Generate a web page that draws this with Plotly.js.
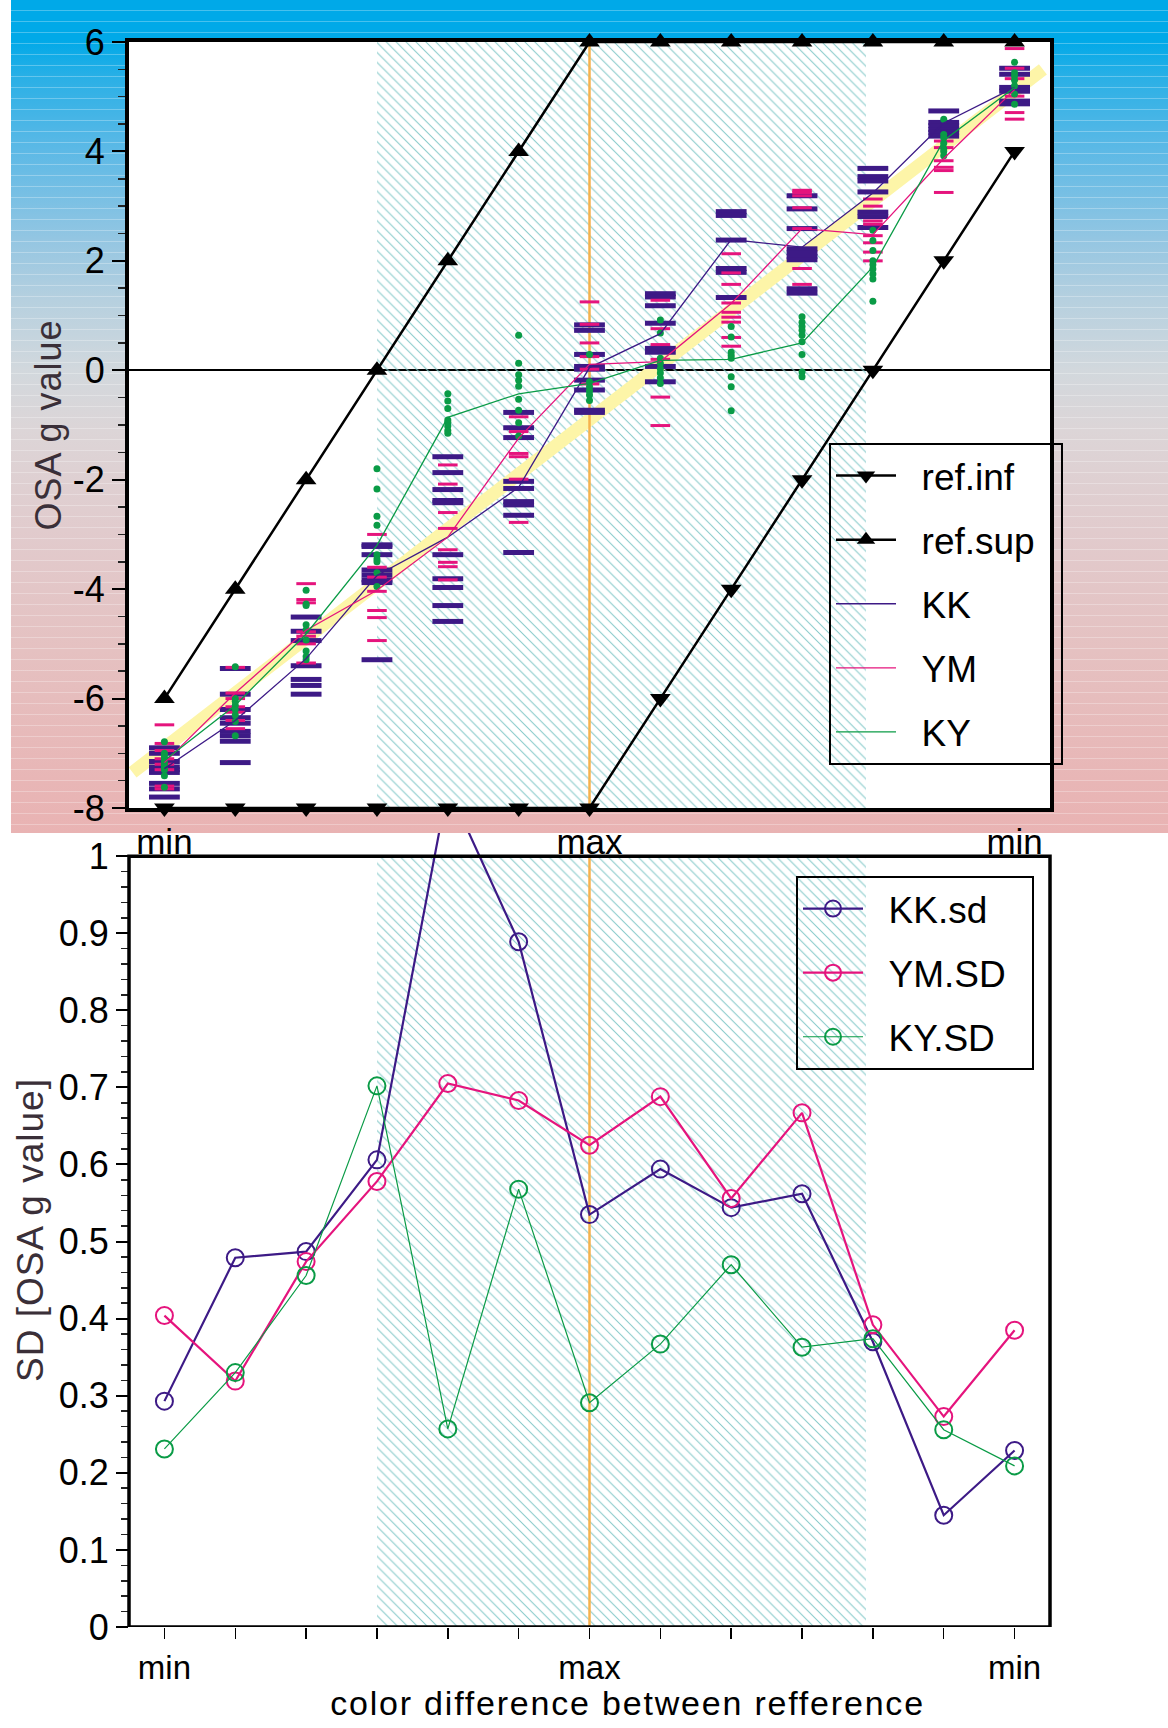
<!DOCTYPE html>
<html>
<head>
<meta charset="utf-8">
<script src="https://cdn.plot.ly/plotly-3.0.1.min.js"></script>
<style>
  html, body { margin: 0; padding: 0; background: #ffffff; }
  #wrap { position: relative; width: 1168px; height: 1728px; overflow: hidden; }
  #band {
    position: absolute; left: 11px; top: 0; width: 1157px; height: 833px;
    background:
      repeating-linear-gradient(to bottom, rgba(255,255,255,0) 0px, rgba(255,255,255,0) 10px, rgba(255,255,255,0.28) 10px, rgba(255,255,255,0.28) 11px),
      linear-gradient(to bottom, #00a9e8 0px, #00a9e8 40px, #2cb0e6 80px, #5cb9e6 150px, #94c6e2 240px, #b6d0df 300px, #d2d8dd 370px, #dcd5d7 430px, #e1cbcd 530px, #e5c1c1 650px, #e8b6b6 780px, #e9b3b3 833px);
  }
  #chart { position: absolute; left: 0; top: 0; width: 1168px; height: 1728px; }
  #chart .g-x2title { transform: translateX(38px); }
  #chart .g-x2title text { letter-spacing: 1.8px; }
  #chart .g-ytitle text, #chart .g-y2title text { letter-spacing: 1px; }
</style>
</head>
<body>
<div id="wrap">
  <div id="band"></div>
  <div id="chart"></div>
</div>
<script>
// ---------- data ----------
const xIdx = [1, 2, 3, 4, 5, 6, 7, 8, 9, 10, 11, 12, 13];
const tickText = ['min', '', '', '', '', '', 'max', '', '', '', '', '', 'min'];
const topTickVals = [1, 7, 13];
const topTickText = ['min', 'max', 'min'];
const yTickVals = [-8, -6, -4, -2, 0, 2, 4, 6];
const yTickText = ['-8', '-6', '-4', '-2', '0', '2', '4', '6'];

const refInf = [-8, -8, -8, -8, -8, -8, -8, -6, -4, -2, 0, 2, 4];
const refSup = [-6, -4, -2, 0, 2, 4, 6, 6, 6, 6, 6, 6, 6];

const kkLine = [-7.28, -6.40, -5.27, -3.75, -3.05, -2.14, 0.05, 0.67, 2.39, 2.25, 3.24, 4.52, 5.17];
const ymLine = [-7.17, -5.90, -4.75, -4.02, -3.05, -1.24, 0.11, 0.16, 1.22, 2.59, 2.48, 3.87, 5.13];
const kyLine = [-7.13, -6.12, -4.82, -3.20, -0.86, -0.43, -0.24, 0.18, 0.20, 0.50, 1.89, 4.20, 5.17];

const kkPts = [
  [-6.90, -7.00, -7.15, -7.25, -7.30, -7.35, -7.55, -7.65, -7.80],
  [-5.45, -5.92, -6.20, -6.35, -6.45, -6.60, -6.68, -6.78, -7.17],
  [-4.51, -4.77, -4.94, -5.40, -5.65, -5.76, -5.92],
  [-3.19, -3.22, -3.37, -3.65, -3.74, -3.83, -3.88, -5.29],
  [-1.58, -1.87, -2.18, -2.38, -2.42, -3.37, -3.81, -3.97, -4.30, -4.59],
  [-0.77, -1.05, -1.23, -2.03, -2.16, -2.40, -2.46, -2.65, -3.33],
  [0.83, 0.73, 0.29, 0.07, 0.02, -0.18, -0.36, -0.73, -0.77],
  [1.40, 1.34, 1.18, 0.86, 0.40, 0.33, 0.07, -0.21],
  [2.90, 2.83, 2.38, 1.86, 1.79, 1.33],
  [3.19, 2.95, 2.59, 2.22, 2.15, 2.08, 2.02, 1.49, 1.41],
  [3.69, 3.54, 3.46, 3.26, 2.89, 2.81, 2.61],
  [4.74, 4.53, 4.47, 4.40, 4.35, 4.28],
  [5.52, 5.41, 5.17, 5.10, 4.92, 4.87]
];
const ymPts = [
  [-6.48, -6.82, -6.95, -7.10, -7.20, -7.30, -7.60, -7.65],
  [-5.43, -5.90, -6.00, -6.15, -6.25, -6.40, -6.55],
  [-3.90, -4.19, -4.25, -4.78, -4.86, -5.00, -5.35],
  [-3.00, -3.60, -3.78, -4.04, -4.39, -4.52, -4.94],
  [-1.73, -2.08, -2.60, -2.89, -3.28, -3.51, -3.59, -3.83],
  [-0.85, -1.12, -1.52, -1.58, -1.99, -2.78],
  [1.25, 0.84, 0.50, 0.25, 0.02, -0.25],
  [1.28, 0.76, 0.47, 0.20, -0.49, -1.01],
  [2.13, 1.78, 1.57, 1.23, 1.06, 0.97, 0.88, 0.60, 0.44],
  [3.29, 3.25, 3.19, 2.97, 2.59, 1.86, 1.57],
  [3.13, 3.00, 2.73, 2.67, 2.46, 2.33, 2.16, 2.00],
  [4.19, 4.07, 3.83, 3.71, 3.65, 3.25],
  [5.88, 5.52, 5.33, 5.01, 4.71, 4.59]
];
const kyPts = [
  [-6.79, -7.00, -7.05, -7.10, -7.15, -7.20, -7.25, -7.30, -7.41, -7.62],
  [-5.42, -6.00, -6.05, -6.12, -6.20, -6.30, -6.42, -6.68],
  [-4.02, -4.27, -4.30, -4.65, -4.74, -4.93, -5.13, -5.23, -5.29],
  [-1.80, -2.17, -2.67, -2.83, -3.37, -3.45, -3.50, -3.70, -3.95],
  [-0.43, -0.56, -0.70, -0.91, -0.95, -1.02, -1.10, -1.15],
  [0.64, 0.13, -0.08, -0.18, -0.29, -0.53, -0.73, -0.96, -1.20],
  [0.29, -0.21, -0.30, -0.38, -0.45, -0.55],
  [0.92, 0.68, 0.22, 0.13, 0.03, -0.05, -0.14, -0.24],
  [0.80, 0.61, 0.33, 0.27, 0.22, -0.12, -0.30, -0.74],
  [0.98, 0.88, 0.80, 0.73, 0.64, 0.52, 0.29, -0.03, -0.12],
  [2.56, 2.37, 2.19, 2.00, 1.93, 1.85, 1.76, 1.67, 1.26],
  [4.59, 4.31, 4.25, 4.15, 4.05, 4.00, 3.92],
  [5.63, 5.44, 5.38, 5.30, 5.20, 5.05, 4.86]
];

// diagonal yellow reference band
const diagX = [0.55, 13.4];
const diagY = [-7.35, 5.5];

// shaded (hatched) region and "max" position
const hatchX = [4.0, 10.9];
const maxPos = 7;
const topRange = [-8, 6];
const sdRange = [0, 1];

// standard deviations
const kkSd = [0.293, 0.479, 0.487, 0.606, 1.09, 0.889, 0.535, 0.594, 0.544, 0.562, 0.370, 0.145, 0.229];
const ymSd = [0.404, 0.319, 0.474, 0.578, 0.705, 0.683, 0.625, 0.688, 0.556, 0.667, 0.392, 0.273, 0.385];
const kySd = [0.231, 0.330, 0.456, 0.702, 0.257, 0.568, 0.291, 0.367, 0.470, 0.363, 0.374, 0.256, 0.209];

const topNames = ['ref.inf', 'ref.sup', 'KK', 'YM', 'KY'];
const sdNames = ['KK.sd', 'YM.SD', 'KY.SD'];
const xTitle = 'color difference between refference';

// ---------- styles ----------
const C_KK = '#3d1a86';
const C_YM = '#e5147d';
const C_KY = '#0a9b46';
const C_HATCH = '#86caca';
const C_ORANGE = '#f6b24e';
const FONT = '"Liberation Sans", Arial, Helvetica, sans-serif';
const PAD = '\u00A0\u00A0';
const label = s => PAD + s + PAD;

function flatten(pts) {
  const xs = [], ys = [];
  pts.forEach((col, i) => col.forEach(v => { xs.push(xIdx[i]); ys.push(v); }));
  return { x: xs, y: ys };
}
const kkF = flatten(kkPts), ymF = flatten(ymPts), kyF = flatten(kyPts);

const hatchMid = (hatchX[0] + hatchX[1]) / 2;
const hatchW = hatchX[1] - hatchX[0];

const traces = [
  // ---- top panel ----
  { type: 'bar', x: [hatchMid], y: [topRange[1] - topRange[0]], base: [topRange[0]], width: [hatchW],
    xaxis: 'x', yaxis: 'y', showlegend: false, hoverinfo: 'skip',
    marker: { color: C_HATCH, line: { width: 0 }, pattern: { shape: '\\', size: 7, solidity: 0.15, fgcolor: C_HATCH, fillmode: 'replace' } } },
  { type: 'scatter', mode: 'lines', x: diagX, y: diagY, xaxis: 'x', yaxis: 'y', showlegend: false,
    line: { color: '#fdf5a8', width: 13 }, hoverinfo: 'skip' },
  { type: 'scatter', mode: 'lines', x: [maxPos, maxPos], y: topRange, xaxis: 'x', yaxis: 'y', showlegend: false,
    line: { color: C_ORANGE, width: 2.5 }, hoverinfo: 'skip' },
  { type: 'scatter', mode: 'markers', x: kkF.x, y: kkF.y, xaxis: 'x', yaxis: 'y', showlegend: false,
    marker: { symbol: 'line-ew', size: 22, line: { color: C_KK, width: 5 } } },
  { type: 'scatter', mode: 'markers', x: ymF.x, y: ymF.y, xaxis: 'x', yaxis: 'y', showlegend: false,
    marker: { symbol: 'line-ew', size: 14, line: { color: C_YM, width: 3 } } },
  { type: 'scatter', mode: 'markers', x: kyF.x, y: kyF.y, xaxis: 'x', yaxis: 'y', showlegend: false,
    marker: { symbol: 'circle', size: 7, color: C_KY } },
  { type: 'scatter', mode: 'lines+markers', name: label(topNames[0]), legendgroup: 'g1', x: xIdx, y: refInf, xaxis: 'x', yaxis: 'y',
    line: { color: '#000', width: 2.5 }, marker: { symbol: 'triangle-down', size: 18, color: '#000' }, cliponaxis: false },
  { type: 'scatter', mode: 'lines+markers', name: label(topNames[1]), legendgroup: 'g2', x: xIdx, y: refSup, xaxis: 'x', yaxis: 'y',
    line: { color: '#000', width: 2.5 }, marker: { symbol: 'triangle-up', size: 18, color: '#000' }, cliponaxis: false },
  { type: 'scatter', mode: 'lines', name: label(topNames[2]), legendgroup: 'g3', x: xIdx, y: kkLine, xaxis: 'x', yaxis: 'y',
    line: { color: C_KK, width: 1.3 } },
  { type: 'scatter', mode: 'lines', name: label(topNames[3]), legendgroup: 'g4', x: xIdx, y: ymLine, xaxis: 'x', yaxis: 'y',
    line: { color: C_YM, width: 1.3 } },
  { type: 'scatter', mode: 'lines', name: label(topNames[4]), legendgroup: 'g5', x: xIdx, y: kyLine, xaxis: 'x', yaxis: 'y',
    line: { color: C_KY, width: 1.3 } },

  // ---- bottom panel ----
  { type: 'bar', x: [hatchMid], y: [sdRange[1] - sdRange[0]], base: [sdRange[0]], width: [hatchW],
    xaxis: 'x2', yaxis: 'y2', showlegend: false, hoverinfo: 'skip',
    marker: { color: C_HATCH, line: { width: 0 }, pattern: { shape: '\\', size: 7, solidity: 0.15, fgcolor: C_HATCH, fillmode: 'replace' } } },
  { type: 'scatter', mode: 'lines', x: [maxPos, maxPos], y: sdRange, xaxis: 'x2', yaxis: 'y2', showlegend: false,
    line: { color: C_ORANGE, width: 2.5 }, hoverinfo: 'skip' },
  { type: 'scatter', mode: 'lines+markers', name: label(sdNames[0]), legend: 'legend2', legendgroup: 'h1', x: xIdx, y: kkSd, xaxis: 'x2', yaxis: 'y2',
    line: { color: C_KK, width: 2.2 }, marker: { symbol: 'circle-open', size: 17, color: C_KK, line: { width: 2 } } },
  { type: 'scatter', mode: 'lines+markers', name: label(sdNames[1]), legend: 'legend2', legendgroup: 'h2', x: xIdx, y: ymSd, xaxis: 'x2', yaxis: 'y2',
    line: { color: C_YM, width: 2.2 }, marker: { symbol: 'circle-open', size: 17, color: C_YM, line: { width: 2 } } },
  { type: 'scatter', mode: 'lines+markers', name: label(sdNames[2]), legend: 'legend2', legendgroup: 'h3', x: xIdx, y: kySd, xaxis: 'x2', yaxis: 'y2',
    line: { color: C_KY, width: 1.2 }, marker: { symbol: 'circle-open', size: 17, color: C_KY, line: { width: 2 } } }
];

// minor tick positions for SD axis (inside 0..1 only)
const sdMinor = [];
for (let k = 1; k < 50; k++) { if (k % 5 !== 0) sdMinor.push(k / 50); }

const W = 1168, H = 1728;
const mL = 129, mR = 118, mT = 42, mB = 101;
const plotH = H - mT - mB;
const topDomain = [1 - (808 - mT) / plotH, 1];
const botDomain = [0, (1627 - 833) / plotH];

const layout = {
  width: W, height: H, autosize: false,
  margin: { l: mL, r: mR, t: mT, b: mB },
  paper_bgcolor: 'rgba(0,0,0,0)',
  plot_bgcolor: '#ffffff',
  font: { family: FONT, size: 35, color: '#000' },
  showlegend: true,
  bargap: 0,
  xaxis: {
    domain: [0, 1], anchor: 'y', range: [0.5, 13.5], fixedrange: true,
    showgrid: false, zeroline: false, showline: true, mirror: true, linewidth: 4, linecolor: '#000',
    ticks: '', tickvals: topTickVals, ticktext: topTickText, tickfont: { size: 35 }, ticklabelstandoff: 0,
    automargin: false
  },
  yaxis: {
    domain: topDomain, anchor: 'x', range: topRange, fixedrange: true,
    showgrid: false, zeroline: true, zerolinecolor: '#000', zerolinewidth: 2,
    showline: true, mirror: true, linewidth: 4, linecolor: '#000',
    ticks: 'outside', ticklen: 13, tickwidth: 2, tickcolor: '#000',
    tickmode: 'array', tickvals: yTickVals, ticktext: yTickText,
    minor: { dtick: 0.5, tick0: 0, ticks: 'outside', ticklen: 7, tickwidth: 1.5, tickcolor: '#222', showgrid: false },
    tickfont: { size: 36 }, automargin: false,
    title: { text: 'OSA g value', font: { size: 36, color: '#3a2f38' }, standoff: 1 }
  },
  xaxis2: {
    domain: [0, 1], anchor: 'y2', range: [0.5, 13.5], fixedrange: true,
    showgrid: false, zeroline: false, showline: false,
    ticks: 'outside', ticklen: 11, tickwidth: 1.5, tickcolor: '#000',
    tickvals: xIdx, ticktext: tickText, tickfont: { size: 33 }, ticklabelstandoff: 0,
    automargin: false,
    title: { text: xTitle, font: { size: 34, color: '#000' }, standoff: 6 }
  },
  yaxis2: {
    domain: botDomain, anchor: 'x2', range: [0, 1.03], fixedrange: true,
    showgrid: false, zeroline: false, showline: false,
    ticks: 'outside', ticklen: 12, tickwidth: 2, tickcolor: '#000', dtick: 0.1, tick0: 0,
    minor: { tickmode: 'array', tickvals: sdMinor, ticks: 'outside', ticklen: 7, tickwidth: 1.5, tickcolor: '#222', showgrid: false },
    tickfont: { size: 36 }, automargin: false,
    title: { text: 'SD [OSA g value]', font: { size: 37, color: '#3a2f38' }, standoff: 3 }
  },
  legend: {
    x: (829 - mL) / (W - mL - mR), y: (1627 - 443) / plotH, xanchor: 'left', yanchor: 'top',
    bgcolor: 'rgba(0,0,0,0)', bordercolor: '#000', borderwidth: 2,
    font: { size: 37, color: '#000' }, itemwidth: 60, traceorder: 'grouped', tracegroupgap: 13
  },
  legend2: {
    x: (796 - mL) / (W - mL - mR), y: (1627 - 876) / plotH, xanchor: 'left', yanchor: 'top',
    bgcolor: 'rgba(0,0,0,0)', bordercolor: '#000', borderwidth: 2,
    font: { size: 37, color: '#000' }, itemwidth: 60, traceorder: 'grouped', tracegroupgap: 13
  },
  shapes: [
    { type: 'rect', xref: 'x2 domain', yref: 'y2', x0: 0, x1: 1, y0: sdRange[0], y1: sdRange[1],
      line: { color: '#000', width: 3.5 }, fillcolor: 'rgba(0,0,0,0)', layer: 'above' }
  ]
};

Plotly.newPlot('chart', traces, layout, { displayModeBar: false, staticPlot: true });
</script>
</body>
</html>
